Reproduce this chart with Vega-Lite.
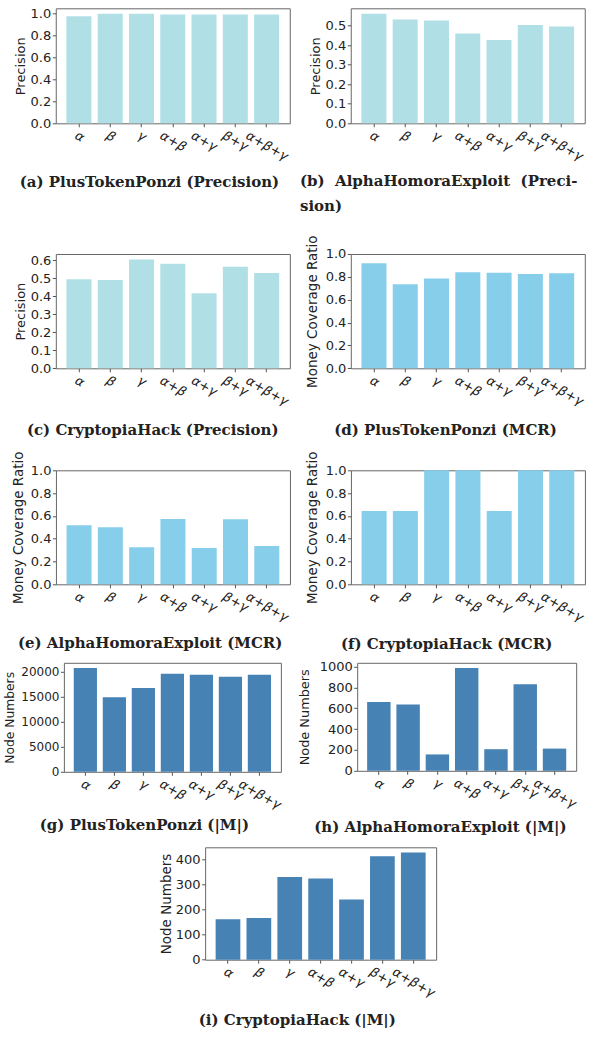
{
  "$schema": "https://vega.github.io/schema/vega-lite/v6.json",
  "background": "white",
  "padding": {"left": 2.5, "top": 6.3, "right": 0, "bottom": 0},
  "spacing": 18.7,
  "center": true,
  "datasets": {
    "a": [{"m": "α", "v": 0.975}, {"m": "β", "v": 0.997}, {"m": "γ", "v": 0.997}, {"m": "α+β", "v": 0.99}, {"m": "α+γ", "v": 0.99}, {"m": "β+γ", "v": 0.99}, {"m": "α+β+γ", "v": 0.99}],
    "b": [{"m": "α", "v": 0.56}, {"m": "β", "v": 0.531}, {"m": "γ", "v": 0.526}, {"m": "α+β", "v": 0.459}, {"m": "α+γ", "v": 0.426}, {"m": "β+γ", "v": 0.503}, {"m": "α+β+γ", "v": 0.495}],
    "c": [{"m": "α", "v": 0.496}, {"m": "β", "v": 0.491}, {"m": "γ", "v": 0.606}, {"m": "α+β", "v": 0.582}, {"m": "α+γ", "v": 0.418}, {"m": "β+γ", "v": 0.565}, {"m": "α+β+γ", "v": 0.53}],
    "d": [{"m": "α", "v": 0.918}, {"m": "β", "v": 0.735}, {"m": "γ", "v": 0.785}, {"m": "α+β", "v": 0.841}, {"m": "α+γ", "v": 0.835}, {"m": "β+γ", "v": 0.824}, {"m": "α+β+γ", "v": 0.832}],
    "e": [{"m": "α", "v": 0.518}, {"m": "β", "v": 0.5}, {"m": "γ", "v": 0.325}, {"m": "α+β", "v": 0.573}, {"m": "α+γ", "v": 0.319}, {"m": "β+γ", "v": 0.57}, {"m": "α+β+γ", "v": 0.336}],
    "f": [{"m": "α", "v": 0.643}, {"m": "β", "v": 0.643}, {"m": "γ", "v": 1.0}, {"m": "α+β", "v": 1.0}, {"m": "α+γ", "v": 0.643}, {"m": "β+γ", "v": 1.0}, {"m": "α+β+γ", "v": 1.0}],
    "g": [{"m": "α", "v": 20680}, {"m": "β", "v": 14830}, {"m": "γ", "v": 16670}, {"m": "α+β", "v": 19520}, {"m": "α+γ", "v": 19320}, {"m": "β+γ", "v": 18910}, {"m": "α+β+γ", "v": 19320}],
    "h": [{"m": "α", "v": 661}, {"m": "β", "v": 636}, {"m": "γ", "v": 157}, {"m": "α+β", "v": 987}, {"m": "α+γ", "v": 207}, {"m": "β+γ", "v": 831}, {"m": "α+β+γ", "v": 213}],
    "i": [{"m": "α", "v": 162}, {"m": "β", "v": 167}, {"m": "γ", "v": 330}, {"m": "α+β", "v": 324}, {"m": "α+γ", "v": 240}, {"m": "β+γ", "v": 413}, {"m": "α+β+γ", "v": 428}]
  },
  "config": {
    "view": {"stroke": "#666666", "strokeWidth": 1},
    "axis": {
      "grid": false, "domain": false, "tickColor": "#555555", "tickSize": 3.5, "tickWidth": 1,
      "labelFont": "DejaVu Sans", "labelFontSize": 13, "labelColor": "#222222",
      "titleFont": "DejaVu Sans", "titleFontWeight": "normal", "titleFontSize": 13, "titleColor": "#222222"
    },
    "axisY": {"labelPadding": 1.5},
    "axisX": {
      "labelAngle": 30, "labelAlign": "left", "labelBaseline": "top", "labelPadding": 2,
      "labelFontStyle": "italic", "labelOverlap": false, "bandPosition": 0.5,
      "titleFont": "DejaVu Serif", "titleFontWeight": "bold", "titleFontSize": 15,
      "titleBaseline": "alphabetic", "titleAlign": "center", "titleColor": "#222222"
    }
  },
  "vconcat": [
    {
      "bounds": "flush", "spacing": 61,
      "hconcat": [
        {
          "width": 234, "height": 115, "data": {"name": "a"},
          "mark": {"type": "bar", "color": "#B0E0E6"},
          "encoding": {
            "x": {"field": "m", "type": "nominal", "sort": null, "scale": {"paddingInner": 0.2, "paddingOuter": 0.34},
              "axis": {"title": "(a) PlusTokenPonzi (Precision)", "titleX": 93.2, "titleY": 63.4,
                "labelOffset": {"expr": "length(datum.label) > 3 ? -16.7 : length(datum.label) > 1 ? -8.7 : 0"}}},
            "y": {"field": "v", "type": "quantitative", "scale": {"domain": [0, 1.047], "nice": false},
              "axis": {"title": "Precision", "values": [0, 0.2, 0.4, 0.6, 0.8, 1.0], "format": ".1f", "titleX": -28}}
          }
        },
        {
          "width": 234, "height": 115, "data": {"name": "b"},
          "mark": {"type": "bar", "color": "#B0E0E6"},
          "encoding": {
            "x": {"field": "m", "type": "nominal", "sort": null, "scale": {"paddingInner": 0.2, "paddingOuter": 0.34},
              "axis": {"title": ["(b)\u00a0 AlphaHomoraExploit\u00a0 (Preci-", "sion)"], "titleAlign": "left", "titleLineHeight": 25, "titleX": -51.3, "titleY": 62.7,
                "labelOffset": {"expr": "length(datum.label) > 3 ? -16.7 : length(datum.label) > 1 ? -8.7 : 0"}}},
            "y": {"field": "v", "type": "quantitative", "scale": {"domain": [0, 0.588], "nice": false},
              "axis": {"title": "Precision", "values": [0, 0.1, 0.2, 0.3, 0.4, 0.5], "format": ".1f", "titleX": -28}}
          }
        }
      ]
    },
    {
      "spacing": 12.3, "center": true,
      "vconcat": [
        {
          "bounds": "flush", "spacing": 61,
          "hconcat": [
            {
              "width": 234, "height": 114.3, "data": {"name": "c"},
              "mark": {"type": "bar", "color": "#B0E0E6"},
              "encoding": {
                "x": {"field": "m", "type": "nominal", "sort": null, "scale": {"paddingInner": 0.2, "paddingOuter": 0.34},
                  "axis": {"title": "(c) CryptopiaHack (Precision)", "titleX": 96.4, "titleY": 66,
                    "labelOffset": {"expr": "length(datum.label) > 3 ? -16.7 : length(datum.label) > 1 ? -8.7 : 0"}}},
                "y": {"field": "v", "type": "quantitative", "scale": {"domain": [0, 0.636], "nice": false},
                  "axis": {"title": "Precision", "values": [0, 0.1, 0.2, 0.3, 0.4, 0.5, 0.6], "format": ".1f", "titleX": -28}}
              }
            },
            {
              "width": 234, "height": 114.3, "data": {"name": "d"},
              "mark": {"type": "bar", "color": "#87CEEB"},
              "encoding": {
                "x": {"field": "m", "type": "nominal", "sort": null, "scale": {"paddingInner": 0.2, "paddingOuter": 0.34},
                  "axis": {"title": "(d) PlusTokenPonzi (MCR)", "titleX": 94.2, "titleY": 66,
                    "labelOffset": {"expr": "length(datum.label) > 3 ? -16.7 : length(datum.label) > 1 ? -8.7 : 0"}}},
                "y": {"field": "v", "type": "quantitative", "scale": {"domain": [0, 1], "nice": false},
                  "axis": {"title": "Money Coverage Ratio", "titleFontSize": 13.5, "values": [0, 0.2, 0.4, 0.6, 0.8, 1.0], "format": ".1f", "titleX": -31}}
              }
            }
          ]
        },
        {
          "spacing": 7.5, "center": true,
          "vconcat": [
            {
              "bounds": "flush", "spacing": 61,
              "hconcat": [
                {
                  "width": 234, "height": 114, "data": {"name": "e"},
                  "mark": {"type": "bar", "color": "#87CEEB"},
                  "encoding": {
                    "x": {"field": "m", "type": "nominal", "sort": null, "scale": {"paddingInner": 0.2, "paddingOuter": 0.34},
                      "axis": {"title": "(e) AlphaHomoraExploit (MCR)", "titleX": 93.7, "titleY": 63.4,
                        "labelOffset": {"expr": "length(datum.label) > 3 ? -16.7 : length(datum.label) > 1 ? -8.7 : 0"}}},
                    "y": {"field": "v", "type": "quantitative", "scale": {"domain": [0, 1], "nice": false},
                      "axis": {"title": "Money Coverage Ratio", "titleFontSize": 13.5, "values": [0, 0.2, 0.4, 0.6, 0.8, 1.0], "format": ".1f", "titleX": -30}}
                  }
                },
                {
                  "width": 234, "height": 114, "data": {"name": "f"},
                  "mark": {"type": "bar", "color": "#87CEEB"},
                  "encoding": {
                    "x": {"field": "m", "type": "nominal", "sort": null, "scale": {"paddingInner": 0.2, "paddingOuter": 0.34},
                      "axis": {"title": "(f) CryptopiaHack (MCR)", "titleX": 95.2, "titleY": 64,
                        "labelOffset": {"expr": "length(datum.label) > 3 ? -16.7 : length(datum.label) > 1 ? -8.7 : 0"}}},
                    "y": {"field": "v", "type": "quantitative", "scale": {"domain": [0, 1], "nice": false},
                      "axis": {"title": "Money Coverage Ratio", "titleFontSize": 13.5, "values": [0, 0.2, 0.4, 0.6, 0.8, 1.0], "format": ".1f", "titleX": -31}}
                  }
                }
              ]
            },
            {
              "spacing": 11.5, "center": true,
              "vconcat": [
                {
                  "bounds": "flush", "spacing": 76.3,
                  "hconcat": [
                    {
                      "width": 217, "height": 109, "data": {"name": "g"},
                      "mark": {"type": "bar", "color": "#4682B4"},
                      "encoding": {
                        "x": {"field": "m", "type": "nominal", "sort": null, "scale": {"paddingInner": 0.2, "paddingOuter": 0.34},
                          "axis": {"title": "(g) PlusTokenPonzi (|M|)", "titleX": 80, "titleY": 57.5,
                            "labelOffset": {"expr": "length(datum.label) > 3 ? -16.7 : length(datum.label) > 1 ? -8.7 : 0"}}},
                        "y": {"field": "v", "type": "quantitative", "scale": {"domain": [0, 21714], "nice": false},
                          "axis": {"title": "Node Numbers", "titleFontSize": 12.3, "labelFontSize": 12, "values": [0, 5000, 10000, 15000, 20000], "format": "d", "titleX": -47}}
                      }
                    },
                    {
                      "width": 219, "height": 108, "data": {"name": "h"},
                      "mark": {"type": "bar", "color": "#4682B4"},
                      "encoding": {
                        "x": {"field": "m", "type": "nominal", "sort": null, "scale": {"paddingInner": 0.2, "paddingOuter": 0.34},
                          "axis": {"title": "(h) AlphaHomoraExploit (|M|)", "titleX": 82.7, "titleY": 60.5,
                            "labelOffset": {"expr": "length(datum.label) > 3 ? -16.7 : length(datum.label) > 1 ? -8.7 : 0"}}},
                        "y": {"field": "v", "type": "quantitative", "scale": {"domain": [0, 1036], "nice": false},
                          "axis": {"title": "Node Numbers", "titleFontSize": 12.9, "values": [0, 200, 400, 600, 800, 1000], "format": "d", "titleX": -46}}
                      }
                    }
                  ]
                },
                {
                  "width": 231, "height": 112.4, "data": {"name": "i"},
                  "mark": {"type": "bar", "color": "#4682B4"},
                  "encoding": {
                    "x": {"field": "m", "type": "nominal", "sort": null, "scale": {"paddingInner": 0.2, "paddingOuter": 0.34},
                      "axis": {"title": "(i) CryptopiaHack (|M|)", "titleX": 91.7, "titleY": 65,
                        "labelOffset": {"expr": "length(datum.label) > 3 ? -16.7 : length(datum.label) > 1 ? -8.7 : 0"}}},
                    "y": {"field": "v", "type": "quantitative", "scale": {"domain": [0, 449], "nice": false},
                      "axis": {"title": "Node Numbers", "titleFontSize": 13.5, "values": [0, 100, 200, 300, 400], "format": "d", "titleX": -32}}
                  }
                }
              ]
            }
          ]
        }
      ]
    }
  ]
}
